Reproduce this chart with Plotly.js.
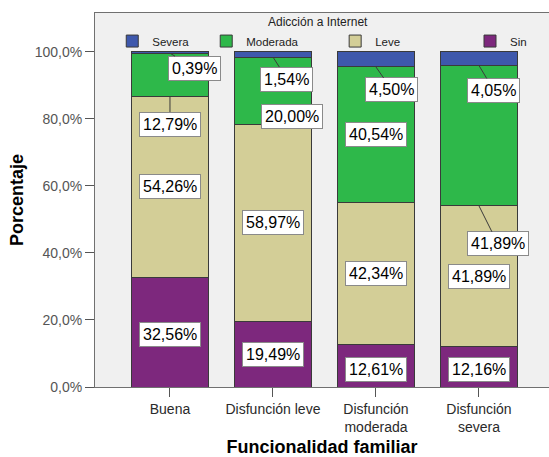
<!DOCTYPE html>
<html>
<head>
<meta charset="utf-8">
<script src="https://cdn.plot.ly/plotly-3.0.1.min.js"></script>
<style>
  html, body { margin: 0; padding: 0; background: #ffffff; }
  #chart { width: 549px; height: 457px; }
</style>
</head>
<body>
<div id="chart"></div>
<script>
// Funcionalidad familiar vs. nivel de adicción a Internet (porcentajes por grupo)
const categories = ['Buena', 'Disfunción leve', 'Disfunción<br>moderada', 'Disfunción<br>severa'];

const seriesNames = ['Sin', 'Leve', 'Moderada', 'Severa'];
const sinValues      = [32.56, 19.49, 12.61, 12.16];
const leveValues     = [54.26, 58.97, 42.34, 41.89];
const moderadaValues = [12.79, 20.00, 40.54, 41.89];
const severaValues   = [0.39, 1.54, 4.50, 4.05];

const yTickValues = [0, 20, 40, 60, 80, 100];
const legendTitle = 'Adicción a Internet';

// Segment fill colours, bottom to top
const colors = ['#7d287d', '#d3ce97', '#2eb84a', '#3e58ac'];

// Horizontal position (fraction of the plot width) of each series' legend entry
const legendX = [0.826, 0.529, 0.245, 0.038];

// Label placement tweaks (pixels). Entries with arrow:true get a leader line
// pointing at the base of their segment; the rest sit on the segment middle.
const labelTweaks = {
  '0-3': { dx: 25, dy: 15, arrow: true },
  '0-2': { dx: 0,  dy: 28, arrow: true },
  '0-0': { dx: 0,  dy: 2 },
  '1-3': { dx: 14, dy: 22, arrow: true },
  '1-2': { dx: 19, dy: 26 },
  '2-3': { dx: 16, dy: 23, arrow: true },
  '2-0': { dx: 0,  dy: 4 },
  '3-3': { dx: 15, dy: 25, arrow: true },
  '3-2': { dx: 19, dy: 38, arrow: true },
  '3-0': { dx: 0,  dy: 3 }
};

const allSeries = [sinValues, leveValues, moderadaValues, severaValues];
const legendIds = ['legend', 'legend2', 'legend3', 'legend4'];

const traces = allSeries.map((vals, s) => ({
  type: 'bar',
  name: seriesNames[s],
  x: categories,
  y: vals,
  width: 0.75,
  legend: legendIds[s],
  marker: { color: colors[s], line: { color: '#3a3a3a', width: 1 } },
  hoverinfo: 'skip'
}));

function fmt(v) {
  return v.toFixed(2).replace('.', ',') + '%';
}

const labelFont = { family: 'Liberation Sans, Arial, sans-serif', size: 16, color: '#000000' };

const annotations = [];
categories.forEach((cat, c) => {
  let base = 0;
  allSeries.forEach((vals, s) => {
    const v = vals[c];
    const t = labelTweaks[c + '-' + s] || { dx: 0, dy: 0 };
    const common = {
      x: cat,
      xref: 'x', yref: 'y',
      text: fmt(v),
      font: labelFont,
      bgcolor: '#ffffff',
      bordercolor: '#8a8a8a',
      borderwidth: 1,
      borderpad: 3
    };
    if (t.arrow) {
      annotations.push(Object.assign(common, {
        y: base,
        showarrow: true,
        arrowhead: 0,
        arrowwidth: 1,
        arrowcolor: '#3a3a3a',
        standoff: 0,
        axref: 'pixel', ayref: 'pixel',
        ax: t.dx, ay: t.dy
      }));
    } else {
      annotations.push(Object.assign(common, {
        y: base + v / 2,
        showarrow: false,
        xshift: t.dx,
        yshift: -t.dy
      }));
    }
    base += v;
  });
});

// Legend heading
annotations.push({
  xref: 'paper', yref: 'paper',
  x: 0.491, y: 0.977,
  xanchor: 'center', yanchor: 'middle',
  showarrow: false,
  text: legendTitle,
  font: { family: 'Liberation Sans, Arial, sans-serif', size: 12, color: '#222222' }
});

const layout = {
  width: 549,
  height: 457,
  margin: { l: 95, r: 0, t: 13, b: 70 },
  paper_bgcolor: '#ffffff',
  plot_bgcolor: '#f0f0f0',
  barmode: 'stack',
  separators: ',.',
  font: { family: 'Liberation Sans, Arial, sans-serif', size: 14, color: '#444444' },
  showlegend: true,
  xaxis: {
    type: 'category',
    range: [-0.728, 3.68],
    showline: true,
    linecolor: '#707070',
    linewidth: 1,
    mirror: true,
    ticks: 'outside',
    ticklen: 9,
    tickcolor: '#555555',
    showgrid: false,
    zeroline: false,
    tickfont: { size: 14, color: '#2a2a2a' },
    title: {
      text: 'Funcionalidad familiar',
      font: { size: 18, color: '#000000', weight: 'bold' },
      standoff: 12
    }
  },
  yaxis: {
    range: [0, 111.6],
    tickmode: 'array',
    tickvals: yTickValues,
    ticktext: yTickValues.map(v => v.toFixed(1).replace('.', ',') + '%'),
    showline: true,
    linecolor: '#707070',
    linewidth: 1,
    ticks: 'outside',
    ticklen: 9,
    tickcolor: '#555555',
    showgrid: false,
    zeroline: false,
    tickfont: { size: 14, color: '#555555' },
    title: {
      text: 'Porcentaje',
      font: { size: 18, color: '#000000', weight: 'bold' },
      standoff: 6
    }
  },
  annotations: annotations
};

// One single-entry legend per series, spread across the top of the plot
legendIds.forEach((id, s) => {
  layout[id] = {
    orientation: 'h',
    xref: 'paper', yref: 'paper',
    x: legendX[s], xanchor: 'left',
    y: 0.925, yanchor: 'middle',
    bgcolor: 'rgba(0,0,0,0)',
    itemwidth: 30,
    font: { size: 11.5, color: '#222222' }
  };
});

Plotly.newPlot('chart', traces, layout, { displayModeBar: false, staticPlot: true });
</script>
</body>
</html>
